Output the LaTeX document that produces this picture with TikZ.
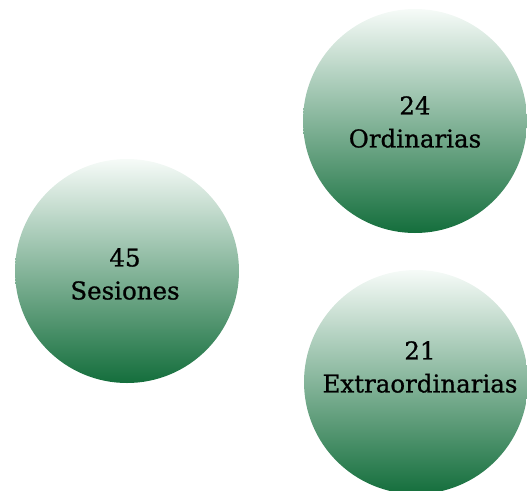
\documentclass[tikz,border=0pt]{standalone}
\usepackage{fontspec}
\setmainfont[FakeBold=0.8]{DejaVu Serif}
\usepackage{tikz}

\definecolor{paleGreen}{RGB}{246,251,248}
\definecolor{deepGreen}{RGB}{20,110,60}

\begin{document}
\begin{tikzpicture}[x=1pt, y=-1pt,
    bubble/.style={circle, minimum size=224pt, inner sep=0pt,
        top color=paleGreen, bottom color=deepGreen},
    count/.style={align=center, inner sep=0pt,
        font=\fontsize{24.5}{33}\selectfont}]
    \useasboundingbox (0,0) rectangle (527,490);
    \clip (0,0) rectangle (527,490);

    \node[bubble] (sesiones) at (127, 271) {};
    \node[bubble] (ordinarias) at (415, 121) {};
    \node[bubble] (extra) at (416, 382) {};

    \node[count] (sesionesText) at (125, 274) {45\\Sesiones};
    \node[count] (ordinariasText) at (415, 122) {24\\Ordinarias};
    \node[count] (extraText) at (420, 367) {21\\Extraordinarias};
\end{tikzpicture}
\end{document}
